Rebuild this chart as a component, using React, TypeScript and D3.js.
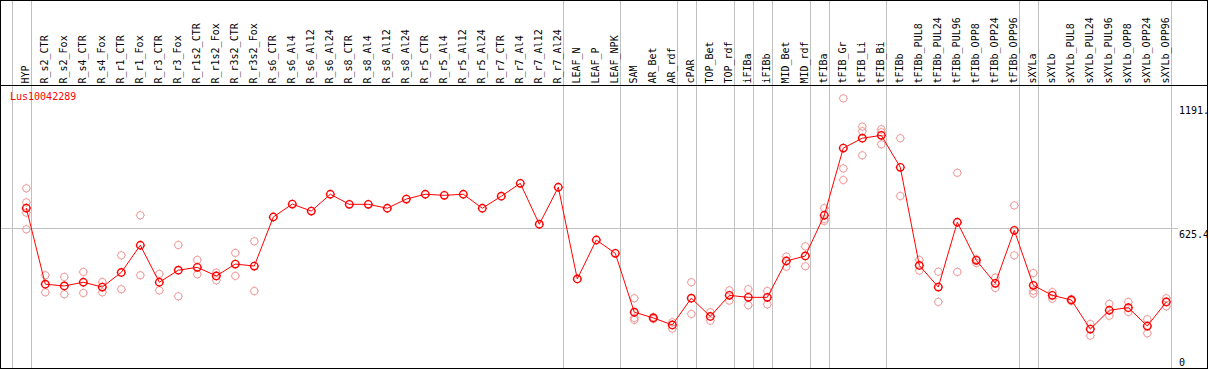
import React from "react";
import * as d3 from "d3";

const title = "Lus10042289";

const categories = [
  "HYP", "R_s2_CTR", "R_s2_Fox", "R_s4_CTR", "R_s4_Fox", "R_r1_CTR", "R_r1_Fox", "R_r3_CTR", "R_r3_Fox",
  "R_r1s2_CTR", "R_r1s2_Fox", "R_r3s2_CTR", "R_r3s2_Fox", "R_s6_CTR", "R_s6_Al4", "R_s6_Al12", "R_s6_Al24",
  "R_s8_CTR", "R_s8_Al4", "R_s8_Al12", "R_s8_Al24", "R_r5_CTR", "R_r5_Al4", "R_r5_Al12", "R_r5_Al24",
  "R_r7_CTR", "R_r7_Al4", "R_r7_Al12", "R_r7_Al24", "LEAF_N", "LEAF_P", "LEAF_NPK", "SAM", "AR_Bet", "AR_rdf",
  "cPAR", "TOP_Bet", "TOP_rdf", "iFIBa", "iFIBb", "MID_Bet", "MID_rdf", "tFIBa", "tFIB_Gr", "tFIB_Li", "tFIB_Bi",
  "tFIBb", "tFIBb_PUL8", "tFIBb_PUL24", "tFIBb_PUL96", "tFIBb_OPP8", "tFIBb_OPP24", "tFIBb_OPP96", "sXYLa",
  "sXYLb", "sXYLb_PUL8", "sXYLb_PUL24", "sXYLb_PUL96", "sXYLb_OPP8", "sXYLb_OPP24", "sXYLb_OPP96",
];

const means = [
  718, 370, 362, 379, 357, 424, 548, 379, 434,
  447, 408, 462, 453, 677, 736, 704, 781,
  735, 735, 717, 759, 781, 776, 781, 717,
  772, 831, 644, 813, 394, 572, 511, 242, 216, 184,
  306, 223, 319, 310, 310, 476, 499, 685, 992, 1037, 1050,
  904, 456, 357, 653, 479, 374, 616, 365,
  319, 298, 165, 251, 263, 179, 289,
];

const replicates: number[][] = [
  [808, 744, 697, 621], [411, 333], [403, 324], [426, 330], [380, 333], [502, 347], [685, 411], [417, 342], [549, 315],
  [481, 415], [423, 388], [513, 408], [566, 339], [], [], [], [],
  [], [], [], [], [], [], [], [],
  [], [], [], [], [], [], [], [306, 216, 207], [220, 211], [196, 167],
  [379, 234], [242, 203], [342, 295], [347, 274], [339, 278], [496, 450], [543, 452], [718, 668, 659], [1219, 899, 846], [1090, 1069, 959], [1078, 1064, 1009],
  [1037, 773], [481, 432], [427, 289], [879, 426], [484, 467], [400, 353], [730, 502], [421, 340, 327],
  [334, 304], [302, 293], [188, 135], [280, 226], [289, 243], [210, 146], [306, 269],
];

const yTicks = [0, 625.4, 1191.9];
const yGrid = [625.4];

const groupStarts = ["HYP"];
const groupEnds = [
  "HYP", "R_r7_Al24", "LEAF_NPK", "AR_rdf", "cPAR", "TOP_rdf", "iFIBa", "iFIBb", "MID_rdf", "tFIBa",
  "tFIB_Bi", "tFIBb_OPP96", "sXYLa", "sXYLb_OPP96",
];

const W = 1209;
const H = 370;
const RED = "#ff0000";
const PINK = "#f09a9a";
const GREY = "#c0c0c0";
const FONT = "'DejaVu Sans Mono', 'Liberation Mono', monospace";

function Marker({ cx, cy, color, sw }: { cx: number; cy: number; color: string; sw: number }) {
  const r = 3.7;
  const t = 0.9;
  return (
    <g stroke={color} fill="none">
      <circle cx={cx} cy={cy} r={r} strokeWidth={sw} />
      <line x1={cx} y1={cy - r} x2={cx} y2={cy - r - t} strokeWidth={1} />
      <line x1={cx} y1={cy + r} x2={cx} y2={cy + r + t} strokeWidth={1} />
      <line x1={cx - r} y1={cy} x2={cx - r - t} y2={cy} strokeWidth={1} />
      <line x1={cx + r} y1={cy} x2={cx + r + t} y2={cy} strokeWidth={1} />
    </g>
  );
}

export default function App() {
  const x = d3.scalePoint<string>().domain(categories).range([26.3, 1166.3]);
  const step = x.step();
  const y = d3.scaleLinear().domain([0, 1191.9]).range([365.2, 104.3]);
  const sepOffset = step * 0.25;

  const line = d3
    .line<number>()
    .x((_, i) => x(categories[i]) as number)
    .y((d) => y(d));

  const seps = [
    ...groupStarts.map((c) => (x(c) as number) - step + sepOffset),
    ...groupEnds.map((c) => (x(c) as number) + sepOffset),
  ];

  return (
    <div style={{ position: "absolute", left: 0, top: 0 }}>
      <svg width={W} height={H} style={{ display: "block", background: "#fff" }}>
        <rect x={0} y={0} width={W} height={H} fill="#fff" />
        {seps.map((sx, i) => (
          <line key={"s" + i} x1={Math.round(sx) + 0.5} x2={Math.round(sx) + 0.5} y1={0} y2={368} stroke={GREY} strokeWidth={1} />
        ))}
        {yGrid.map((v, i) => (
          <line key={"g" + i} x1={1} x2={1178} y1={Math.round(y(v)) + 0.5} y2={Math.round(y(v)) + 0.5} stroke={GREY} strokeWidth={1} />
        ))}
        <line x1={0} x2={1208} y1={0.5} y2={0.5} stroke="#000" strokeWidth={1} />
        <line x1={0} x2={1208} y1={85.5} y2={85.5} stroke="#000" strokeWidth={1} />
        <line x1={0} x2={1208} y1={368.5} y2={368.5} stroke="#000" strokeWidth={1} />
        <line x1={0.5} x2={0.5} y1={0} y2={369} stroke="#000" strokeWidth={1} />
        <line x1={1207.5} x2={1207.5} y1={0} y2={369} stroke="#000" strokeWidth={1} />

        {categories.map((c) => {
          const cx = (x(c) as number) + 2.5;
          return (
            <text key={c} transform={`translate(${cx},83.5) rotate(-90)`} fontFamily={FONT} fontSize={10} fill="#000">
              {c}
            </text>
          );
        })}

        <text x={10} y={100} fontFamily={FONT} fontSize={10} fill={RED}>
          {title}
        </text>

        <svg x={0} y={0} width={1207} height={H} overflow="hidden">
          {yTicks.map((v) => (
            <text key={v} x={1179} y={Math.min(y(v) + 9.7, 365.5)} fontFamily={FONT} fontSize={10} fill="#000">
              {String(v)}
            </text>
          ))}
        </svg>

        {replicates.map((reps, i) =>
          reps.map((v, j) => (
            <Marker key={`r${i}-${j}`} cx={x(categories[i]) as number} cy={y(v)} color={PINK} sw={1} />
          ))
        )}
        <path d={line(means) || ""} fill="none" stroke={RED} strokeWidth={1} />
        {means.map((v, i) => (
          <Marker key={"m" + i} cx={x(categories[i]) as number} cy={y(v)} color={RED} sw={1.4} />
        ))}
      </svg>
    </div>
  );
}
